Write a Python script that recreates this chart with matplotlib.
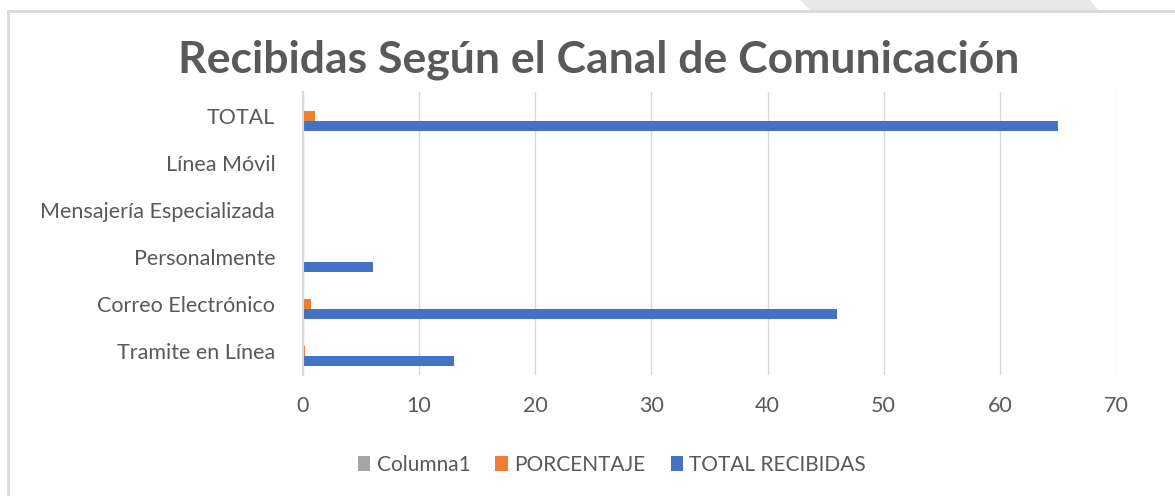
import matplotlib
matplotlib.use('Agg')
import matplotlib.pyplot as plt
from matplotlib.lines import Line2D
from matplotlib.patches import Polygon
import numpy as np

# Data
categorias = ['Tramite en Línea', 'Correo Electrónico', 'Personalmente',
              'Mensajería Especializada', 'Línea Móvil', 'TOTAL']
total_recibidas = [13, 46, 6, 0, 0, 65]
porcentaje = [0.2, 0.71, 0.09, 0, 0, 1.0]
columna1 = [0, 0, 0, 0, 0, 0]
x_ticks = [0, 10, 20, 30, 40, 50, 60, 70]

# Style
plt.rcParams['font.family'] = ['Lato', 'DejaVu Sans']
text_color = '#595959'
grid_color = '#d9d9d9'
c_blue = '#4472C4'
c_orange = '#ED7D31'
c_gray = '#A5A5A5'

fig = plt.figure(figsize=(11.75, 4.96), dpi=100)
fig.patch.set_facecolor('white')

# frame decorations
fig.add_artist(Polygon([[800 / 1175, 1], [1090 / 1175, 1], [1098 / 1175, 1 - 10 / 496], [810 / 1175, 1 - 10 / 496]],
                       closed=True, transform=fig.transFigure, facecolor='#e8e8e8', edgecolor='none'))
fig.add_artist(Line2D([8 / 1175, 8 / 1175], [0, 1 - 11 / 496], transform=fig.transFigure, color='#d9d9d9', lw=2))
fig.add_artist(Line2D([8 / 1175, 1], [1 - 11 / 496, 1 - 11 / 496], transform=fig.transFigure, color='#d9d9d9', lw=2))

ax = fig.add_axes([303 / 1175, 1 - 375 / 496, (1116 - 303) / 1175, (375 - 92) / 496])

y = np.arange(len(categorias))
h = 0.213
ax.barh(y + h, columna1, height=h, color=c_gray, label='Columna1')
ax.barh(y, porcentaje, height=h, color=c_orange, label='PORCENTAJE')
ax.barh(y - h, total_recibidas, height=h, color=c_blue, label='TOTAL RECIBIDAS')

ax.set_xlim(0, 70)
ax.set_ylim(-0.5, len(categorias) - 0.5)
ax.set_xticks(x_ticks)
ax.set_yticks(y)
ax.set_yticklabels(categorias)
ax.tick_params(axis='both', length=0, labelsize=15.5, colors=text_color)
ax.tick_params(axis='x', pad=15)
ax.tick_params(axis='y', pad=20)
ax.grid(axis='x', color=grid_color, lw=1)
ax.set_axisbelow(True)
for s in ['top', 'right', 'bottom']:
    ax.spines[s].set_visible(False)
ax.spines['left'].set_color(grid_color)
ax.spines['left'].set_linewidth(1.5)

fig.text(599 / 1175, 1 - 60 / 496, 'Recibidas Según el Canal de Comunicación', ha='center', va='center',
         fontsize=32, fontweight='bold', color=text_color)

fig.legend(loc='center', bbox_to_anchor=(612 / 1175, 1 - 465 / 496), ncol=3, frameon=False,
           fontsize=15, labelcolor=text_color, handlelength=0.6, handleheight=0.75,
           handletextpad=0.3, columnspacing=1.2)

plt.savefig('out.png', dpi=100)
